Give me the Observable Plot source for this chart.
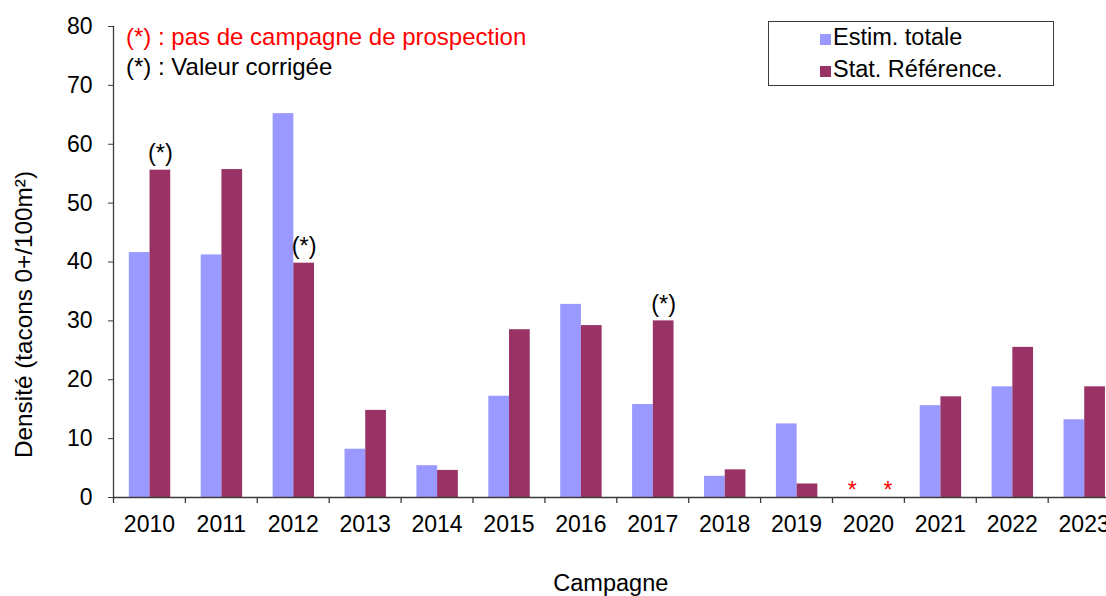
<!DOCTYPE html>
<html>
<head>
<meta charset="utf-8">
<script src="https://cdn.jsdelivr.net/npm/d3@7"></script>
<script src="https://cdn.jsdelivr.net/npm/@observablehq/plot@0.6"></script>
<style>
  html, body { margin: 0; padding: 0; background: #fff; overflow: hidden; }
  #wrap { position: relative; width: 1106px; height: 596px; overflow: hidden; font-family: "Liberation Sans", Arial, sans-serif; }
  #wrap svg { position: absolute; left: 0; top: 0; max-width: none !important; }
  .note { position: absolute; font-size: 24px; line-height: 24px; white-space: nowrap; }
  .legend { position: absolute; left: 768px; top: 21px; width: 284px; height: 63px; border: 1.5px solid #3a3a3a; background: #fff; }
  .lg-item { position: absolute; left: 0; font-size: 23.5px; line-height: 23.5px; white-space: nowrap; }
  .lg-sw { position: absolute; width: 11px; height: 11px; }
</style>
</head>
<body>
<div id="wrap"></div>
<script>
// ---- Data ----
const years = ["2010","2011","2012","2013","2014","2015","2016","2017","2018","2019","2020","2021","2022","2023"];
const seriesNames = ["Estim. totale", "Stat. Référence."];
const estimTotale = [41.6, 41.2, 65.2, 8.2, 5.4, 17.2, 32.8, 15.8, 3.6, 12.5, null, 15.6, 18.8, 13.2];
const statReference = [55.6, 55.7, 39.8, 14.8, 4.6, 28.5, 29.2, 30.0, 4.7, 2.3, null, 17.1, 25.5, 18.8];
const correctedYears = ["2010", "2012", "2017"];   // (*) : Valeur corrigée
const noSurveyYears = ["2020"];                     // (*) : pas de campagne de prospection
const yTicks = [0, 10, 20, 30, 40, 50, 60, 70, 80];
const colors = ["#9999FF", "#993366"];
const noteRed = "(*) : pas de campagne de prospection";
const noteBlack = "(*) : Valeur corrigée";
const xTitle = "Campagne";
const yTitle = "Densité (tacons 0+/100m²)";

// ---- Layout ----
const W = 1120, H = 596;
const mL = 113, mR = 0.4, mT = 26, mB = 99;
const bw = (W - mL - mR) / years.length;
const plotH = H - mT - mB;
const axisColor = "#3c3c3c";

const rowsA = years.map((y, i) => ({year: y, value: estimTotale[i]}));
const rowsB = years.map((y, i) => ({year: y, value: statReference[i]}));
const corrRows = correctedYears.map(y => ({year: y, value: statReference[years.indexOf(y)]}));

const blueL = 0.22, barW = 0.288;
const redL = blueL + barW;

const chart = Plot.plot({
  width: W, height: H,
  marginLeft: mL, marginRight: mR, marginTop: mT, marginBottom: mB,
  style: {fontFamily: "Liberation Sans, Arial, sans-serif", fontSize: "23px", color: "#000", background: "transparent", maxWidth: "none"},
  x: {type: "band", domain: years, padding: 0, round: false, axis: null},
  y: {domain: [0, 80], axis: null},
  marks: [
    Plot.barY(rowsA, {x: "year", y: "value", fill: colors[0], insetLeft: blueL * bw, insetRight: (1 - blueL - barW) * bw}),
    Plot.barY(rowsB, {x: "year", y: "value", fill: colors[1], insetLeft: redL * bw, insetRight: (1 - redL - barW) * bw}),
    // y axis
    Plot.axisY({ticks: yTicks, tickSize: 5, tickPadding: 16, stroke: axisColor, label: null, tickFormat: d => String(d), fill: "#000"}),
    Plot.frame({anchor: "left", stroke: axisColor, strokeWidth: 1.3}),
    Plot.ruleY([0], {stroke: axisColor, strokeWidth: 1.3}),
    // x axis: boundary ticks + centered labels
    Plot.tickX(years, {x: d => d, dx: -bw / 2, insetTop: plotH, insetBottom: -6, stroke: axisColor, strokeWidth: 1.3}),
    Plot.axisX({tickSize: 0, tickPadding: 18, label: null, fill: "#000"}),
    // annotations: corrected values
    Plot.text(corrRows, {x: "year", y: "value", text: () => "(*)", dx: (redL + barW / 2 - 0.5) * bw, dy: -9, lineAnchor: "bottom", fill: "#000", fontSize: 23.5}),
    // annotations: no survey
    Plot.text(noSurveyYears, {x: d => d, y: () => 0, text: () => "*", dx: (0.274 - 0.5) * bw, lineAnchor: "bottom", fill: "#ff0000"}),
    Plot.text(noSurveyYears, {x: d => d, y: () => 0, text: () => "*", dx: (0.77 - 0.5) * bw, lineAnchor: "bottom", fill: "#ff0000"}),
    // axis titles
    Plot.text([yTitle], {frameAnchor: "left", text: d => d, rotate: -90, dx: -82, dy: 52.5, lineAnchor: "bottom", textAnchor: "middle", fill: "#000", fontSize: 24.3}),
    Plot.text([xTitle], {x: () => years[7], frameAnchor: "bottom", text: d => d, dx: -bw / 2 - 6, dy: 93, lineAnchor: "bottom", textAnchor: "middle", fill: "#000", fontSize: 23.5})
  ]
});

const wrap = document.getElementById("wrap");
wrap.appendChild(chart);

// notes (top-left)
function addNote(txt, color, left, top) {
  const d = document.createElement("div");
  d.className = "note"; d.textContent = txt; d.style.color = color;
  d.style.left = left + "px"; d.style.top = top + "px";
  wrap.appendChild(d);
}
addNote(noteRed, "#ff0000", 126, 24.7);
addNote(noteBlack, "#000000", 126, 54.7);

// legend box
const lg = document.createElement("div");
lg.className = "legend";
seriesNames.forEach((name, i) => {
  const sw = document.createElement("div");
  sw.className = "lg-sw";
  sw.style.background = colors[i];
  sw.style.left = "51px";
  sw.style.top = (12 + i * 32) + "px";
  lg.appendChild(sw);
  const t = document.createElement("div");
  t.className = "lg-item";
  t.textContent = name;
  t.style.left = "64px";
  t.style.top = (3.5 + i * 32) + "px";
  lg.appendChild(t);
});
wrap.appendChild(lg);
</script>
</body>
</html>
